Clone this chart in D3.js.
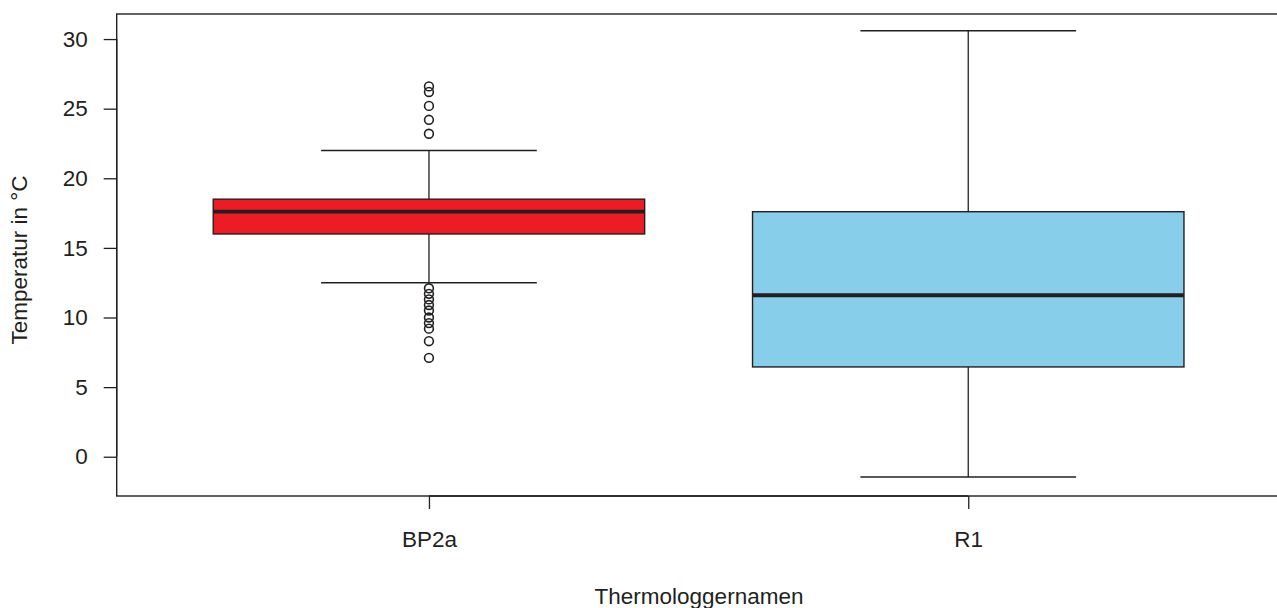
<!DOCTYPE html>
<html>
<head>
<meta charset="utf-8">
<script src="https://cdn.jsdelivr.net/npm/d3@7"></script>
<style>
  body { margin: 0; background: #fff; }
  text { font-family: "Liberation Sans", Arial, sans-serif; fill: #231f20; }
</style>
</head>
<body>
<svg id="chart" width="1277" height="608"></svg>
<script>
// data
var loggers = ["BP2a", "R1"];
var lowWhisker = [12.5, -1.45];
var q1 = [16.0, 6.45];
var median = [17.6, 11.6];
var q3 = [18.5, 17.6];
var highWhisker = [22.0, 30.6];
var outliers = [
  [26.6, 26.2, 25.2, 24.2, 23.2, 12.1, 11.7, 11.3, 10.9, 10.5, 10.0, 9.6, 9.2, 8.3, 7.1],
  []
];
var fills = ["#ed1c24", "#87ceeb"];
var yTicks = [0, 5, 10, 15, 20, 25, 30];

var svg = d3.select("#chart");
var ink = "#231f20";
var fontSize = "22.5px";

var x = d3.scaleLinear().domain([0.421, 2.579]).range([116.7, 1280.5]);
var y = d3.scaleLinear().domain([-2.82, 31.8]).range([496, 14]);

var boxW = x(1.8) - x(1);
var capW = boxW / 2;

var boxes = loggers.map(function(name, i) {
  return { name: name, pos: i + 1, lo: lowWhisker[i], q1: q1[i], med: median[i],
           q3: q3[i], hi: highWhisker[i], out: outliers[i], fill: fills[i] };
});

var g = svg.selectAll("g.box").data(boxes).enter().append("g").attr("class", "box");

// whiskers
g.append("line")
  .attr("x1", d => x(d.pos)).attr("x2", d => x(d.pos))
  .attr("y1", d => y(d.hi)).attr("y2", d => y(d.q3))
  .attr("stroke", ink).attr("stroke-width", 1.3);
g.append("line")
  .attr("x1", d => x(d.pos)).attr("x2", d => x(d.pos))
  .attr("y1", d => y(d.q1)).attr("y2", d => y(d.lo))
  .attr("stroke", ink).attr("stroke-width", 1.3);
// staples
g.append("line")
  .attr("x1", d => x(d.pos) - capW / 2).attr("x2", d => x(d.pos) + capW / 2)
  .attr("y1", d => y(d.hi)).attr("y2", d => y(d.hi))
  .attr("stroke", ink).attr("stroke-width", 1.6);
g.append("line")
  .attr("x1", d => x(d.pos) - capW / 2).attr("x2", d => x(d.pos) + capW / 2)
  .attr("y1", d => y(d.lo)).attr("y2", d => y(d.lo))
  .attr("stroke", ink).attr("stroke-width", 1.6);

// box
g.append("rect")
  .attr("x", d => x(d.pos) - boxW / 2)
  .attr("width", boxW)
  .attr("y", d => y(d.q3))
  .attr("height", d => y(d.q1) - y(d.q3))
  .attr("fill", d => d.fill)
  .attr("stroke", ink).attr("stroke-width", 1.4);

// median
g.append("line")
  .attr("x1", d => x(d.pos) - boxW / 2).attr("x2", d => x(d.pos) + boxW / 2)
  .attr("y1", d => y(d.med)).attr("y2", d => y(d.med))
  .attr("stroke", ink).attr("stroke-width", 3.8);

// outliers
g.selectAll("circle")
  .data(d => d.out.map(v => ({ pos: d.pos, v: v })))
  .enter().append("circle")
  .attr("cx", d => x(d.pos)).attr("cy", d => y(d.v))
  .attr("r", 4.4)
  .attr("fill", "none").attr("stroke", ink).attr("stroke-width", 1.6);

// frame
svg.append("rect")
  .attr("x", 116.7).attr("y", 14)
  .attr("width", 1280.5 - 116.7).attr("height", 496 - 14)
  .attr("fill", "none").attr("stroke", ink).attr("stroke-width", 1.4);

// y axis
var yAxis = svg.append("g")
  .attr("transform", "translate(116.7,0)")
  .call(d3.axisLeft(y).tickValues(yTicks).tickSize(13).tickPadding(16).tickFormat(d3.format("d")));
yAxis.select(".domain")
  .attr("d", "M0," + y(0) + "V" + y(30))
  .attr("stroke", ink).attr("stroke-width", 1.4);
yAxis.selectAll(".tick line").attr("stroke", ink).attr("stroke-width", 1.3);
yAxis.selectAll(".tick text")
  .style("font-family", '"Liberation Sans", Arial, sans-serif')
  .style("font-size", fontSize).attr("fill", ink);

// x axis
var xAxis = svg.append("g")
  .attr("transform", "translate(0,496)")
  .call(d3.axisBottom(x).tickValues([1, 2]).tickSize(13).tickPadding(22)
    .tickFormat(d => loggers[d - 1]));
xAxis.select(".domain")
  .attr("d", "M" + x(1) + ",0H" + x(2))
  .attr("stroke", ink).attr("stroke-width", 1.4);
xAxis.selectAll(".tick line").attr("stroke", ink).attr("stroke-width", 1.3);
xAxis.selectAll(".tick text")
  .style("font-family", '"Liberation Sans", Arial, sans-serif')
  .style("font-size", fontSize).attr("fill", ink);

// axis titles
svg.append("text")
  .attr("x", 699).attr("y", 604)
  .attr("text-anchor", "middle")
  .style("font-size", fontSize)
  .text("Thermologgernamen");
svg.append("text")
  .attr("transform", "translate(27,260) rotate(-90)")
  .attr("text-anchor", "middle")
  .style("font-size", fontSize)
  .text("Temperatur in °C");
</script>
</body>
</html>
